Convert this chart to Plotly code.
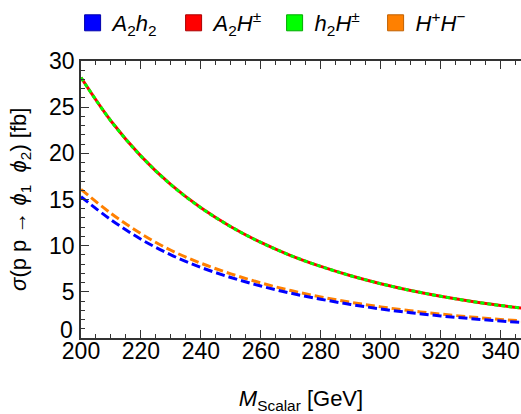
import plotly.graph_objects as go

# Data
mass = [200, 210, 220, 230, 240, 250, 260, 270, 280, 290, 300, 310, 320, 330, 340, 350]
sigma_A2Hpm = [28.2, 23.5, 19.7, 16.6, 14.1, 12.05, 10.35, 8.93, 7.75, 6.74, 5.88, 5.15, 4.52, 3.98, 3.52, 3.11]
sigma_h2Hpm = [28.2, 23.5, 19.7, 16.6, 14.1, 12.05, 10.35, 8.93, 7.75, 6.74, 5.88, 5.15, 4.52, 3.98, 3.52, 3.11]
sigma_HpHm = [16.1, 13.5, 11.3, 9.5, 8.1, 6.95, 5.97, 5.14, 4.45, 3.87, 3.37, 2.95, 2.59, 2.28, 2.01, 1.78]
sigma_A2h2 = [15.3, 12.8, 10.7, 9.0, 7.65, 6.55, 5.63, 4.85, 4.2, 3.63, 3.15, 2.74, 2.39, 2.1, 1.84, 1.62]

x_ticks = [200, 220, 240, 260, 280, 300, 320, 340]
y_ticks = [0, 5, 10, 15, 20, 25, 30]

names = ["<i>A</i><sub>2</sub><i>h</i><sub>2</sub>",
         "<i>A</i><sub>2</sub><i>H</i><sup>±</sup>",
         "<i>h</i><sub>2</sub><i>H</i><sup>±</sup>",
         "<i>H</i><sup>+</sup><i>H</i><sup>−</sup>"]
colors = ["#0000FF", "#FF0000", "#00FF00", "#FF8000"]
edge = ["#0000AA", "#AA0000", "#00AA00", "#C06000"]

FONT = "Liberation Sans, Arial, sans-serif"

fig = go.Figure()

# curves
fig.add_trace(go.Scatter(x=mass, y=sigma_A2Hpm, mode="lines", showlegend=False,
                         line=dict(color=colors[1], width=3, shape="spline")))
fig.add_trace(go.Scatter(x=mass, y=sigma_h2Hpm, mode="lines", showlegend=False,
                         line=dict(color=colors[2], width=3, dash="4px,3px", shape="spline")))
fig.add_trace(go.Scatter(x=mass, y=sigma_HpHm, mode="lines", showlegend=False,
                         line=dict(color=colors[3], width=3, dash="9px,4px", shape="spline")))
fig.add_trace(go.Scatter(x=mass, y=sigma_A2h2, mode="lines", showlegend=False,
                         line=dict(color=colors[0], width=3, dash="9px,4px", shape="spline")))

# legend entries (square swatches)
for n, c, e in zip(names, colors, edge):
    fig.add_trace(go.Scatter(x=[None], y=[None], mode="markers", name=n,
                             marker=dict(symbol="square", size=16, color=c,
                                         line=dict(color=e, width=1))))

# dummy trace for top frame axis
fig.add_trace(go.Scatter(x=[mass[0]], y=[sigma_A2h2[0]], xaxis="x2", mode="markers",
                         marker=dict(opacity=0), showlegend=False, hoverinfo="skip"))

axis_common = dict(showgrid=False, zeroline=False, showline=True, linecolor="#333333",
                   linewidth=1.5, ticks="inside", tickcolor="#333333", tickwidth=1.2,
                   ticklen=8, mirror=False)

y_ticktext = [("" if v == 0 else str(v)) for v in y_ticks]

fig.update_layout(
    width=521, height=414,
    margin=dict(l=81, r=0, t=61, b=76, autoexpand=False),
    paper_bgcolor="white", plot_bgcolor="white",
    font=dict(family=FONT, size=23, color="black"),
    xaxis=dict(range=[200, 346.8], tickvals=x_ticks, **axis_common,
               minor=dict(dtick=5, tick0=200, ticks="inside", ticklen=4,
                          tickcolor="#333333", tickwidth=1),
               tickfont=dict(size=23), ticklabelstandoff=-8,
               title=dict(text="<i>M</i><sub>Scalar</sub> [GeV]", standoff=28,
                          font=dict(family=FONT, size=22))),
    xaxis2=dict(range=[200, 346.8], overlaying="x", side="top", matches="x",
                showticklabels=False, tickvals=x_ticks, **axis_common,
                minor=dict(dtick=5, tick0=200, ticks="inside", ticklen=4,
                           tickcolor="#333333", tickwidth=1)),
    yaxis=dict(range=[0, 30], tickvals=y_ticks, ticktext=y_ticktext, **axis_common,
               minor=dict(dtick=1, tick0=0, ticks="inside", ticklen=4,
                          tickcolor="#333333", tickwidth=1),
               tickfont=dict(size=23)),
    legend=dict(orientation="h", x=0.44, xanchor="center", y=(338 - 23) / 277, yanchor="middle",
                font=dict(family=FONT, size=22), itemsizing="trace", entrywidth=56,
                bgcolor="rgba(0,0,0,0)", tracegroupgap=0),
    annotations=[
        dict(text=str(y_ticks[0]), xref="paper", yref="y", x=-6 / 440, y=y_ticks[0],
             yshift=8, xanchor="right", yanchor="middle", showarrow=False,
             font=dict(family=FONT, size=23)),
        dict(text="<i>σ</i>(p p → <i>ϕ</i><sub>1</sub>  <i>ϕ</i><sub>2</sub>) [fb]",
             xref="paper", yref="paper", x=-0.14, y=0.5, textangle=-90,
             xanchor="center", yanchor="middle", showarrow=False,
             font=dict(family=FONT, size=22)),
    ],
)

fig.write_html("out.html")
